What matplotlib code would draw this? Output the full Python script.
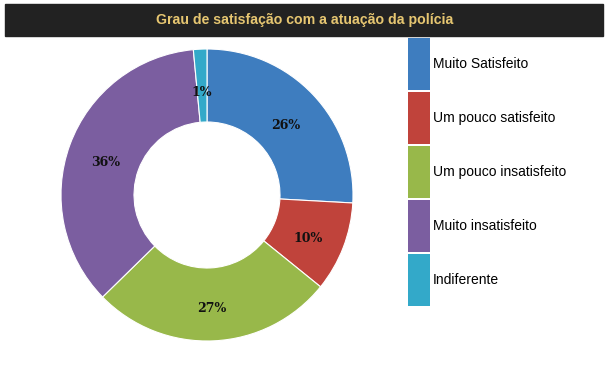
import matplotlib.pyplot as plt
from matplotlib.patches import Rectangle

# dados
categorias = ['Muito Satisfeito', 'Um pouco satisfeito', 'Um pouco insatisfeito',
              'Muito insatisfeito', 'Indiferente']
valores = [26, 10, 27, 36, 1.5]
cores = ['#3e7dbf', '#c0433b', '#98b84a', '#7b5ea0', '#33a9c9']
titulo = 'Grau de satisfação com a atuação da polícia'

W, H = 609, 368
fig = plt.figure(figsize=(W / 100, H / 100), dpi=100)
fig.patch.set_facecolor('white')

# barra do título
fig.patches.append(Rectangle((5 / W, 1 - 36 / H), 598 / W, 32 / H,
                             transform=fig.transFigure, color='#222222', zorder=0))
fig.text(305 / W, 1 - 20 / H, titulo, ha='center', va='center', color='#e6c671',
         fontsize=10.2, fontweight='bold', family='Liberation Sans')

# rosca
ax = fig.add_axes([61 / W, 27 / H, 292 / W, 292 / H])
_, _, autotexts = ax.pie(valores, colors=cores, startangle=90, counterclock=False,
                         wedgeprops=dict(width=0.5, edgecolor='white', linewidth=0.8),
                         autopct='%.0f%%', pctdistance=0.74,
                         textprops=dict(family='DejaVu Serif', fontweight='bold',
                                        fontsize=9, color='#111111'))
for t in autotexts:
    x, y = t.get_position()
    t.set_position((x, y - 0.035))
ax.set_aspect('equal')
ax.set_xlim(-1, 1)
ax.set_ylim(-1, 1)

# legenda
lx, ly0, lw, lh, gap = 408, 38, 22, 51.5, 2.6
for i, (cat, cor) in enumerate(zip(categorias, cores)):
    top = ly0 + i * (lh + gap)
    fig.patches.append(Rectangle((lx / W, 1 - (top + lh) / H), lw / W, lh / H,
                                 transform=fig.transFigure, color=cor, linewidth=0))
    fig.text((lx + lw + 3) / W, 1 - (top + lh / 2) / H, cat, ha='left', va='center',
             fontsize=10, family='Liberation Sans', color='black')

fig.savefig('out.png', dpi=100)
